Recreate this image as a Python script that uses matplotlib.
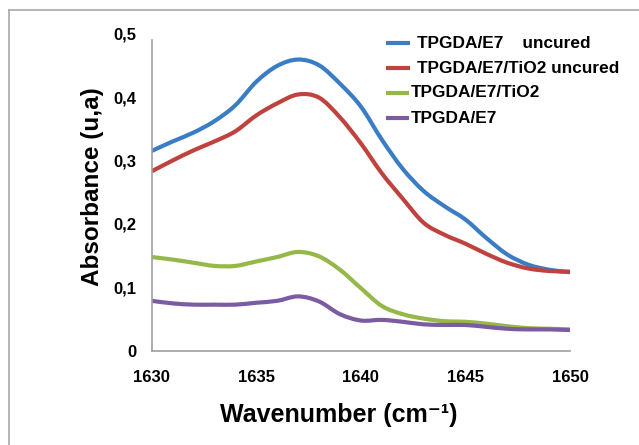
import matplotlib
matplotlib.use("Agg")
import matplotlib.pyplot as plt
import numpy as np
from matplotlib.lines import Line2D
from matplotlib.path import Path
from matplotlib.patches import PathPatch

plt.rcParams['font.family'] = ['Liberation Sans', 'DejaVu Sans']

wavenumber = [1630, 1631, 1632, 1633, 1634, 1635, 1636, 1637, 1638, 1639, 1640,
              1641, 1642, 1643, 1644, 1645, 1646, 1647, 1648, 1649, 1650]

tpgda_e7_uncured = [0.315, 0.330, 0.344, 0.362, 0.387, 0.424, 0.449, 0.459, 0.450, 0.421, 0.385,
                    0.333, 0.287, 0.252, 0.228, 0.207, 0.178, 0.152, 0.136, 0.128, 0.124]
tpgda_e7_tio2_uncured = [0.283, 0.300, 0.316, 0.330, 0.346, 0.371, 0.390, 0.404, 0.399, 0.368, 0.327,
                         0.280, 0.240, 0.202, 0.183, 0.169, 0.153, 0.139, 0.130, 0.126, 0.125]
tpgda_e7_tio2 = [0.148, 0.144, 0.139, 0.134, 0.134, 0.141, 0.148, 0.156, 0.149, 0.128, 0.099,
                 0.071, 0.058, 0.051, 0.047, 0.046, 0.043, 0.039, 0.036, 0.035, 0.034]
tpgda_e7 = [0.079, 0.075, 0.073, 0.073, 0.073, 0.076, 0.079, 0.086, 0.078, 0.058, 0.048,
            0.049, 0.046, 0.042, 0.041, 0.041, 0.038, 0.035, 0.034, 0.034, 0.033]

series = [tpgda_e7_uncured, tpgda_e7_tio2_uncured, tpgda_e7_tio2, tpgda_e7]
labels = ["TPGDA/E7    uncured", "TPGDA/E7/TiO2 uncured", "TPGDA/E7/TiO2", "TPGDA/E7"]
colors = ["#3b7dc4", "#c0423e", "#95b848", "#7b5ca3"]

xticks = [1630, 1635, 1640, 1645, 1650]
xtick_labels = ["1630", "1635", "1640", "1645", "1650"]
yticks = [0, 0.1, 0.2, 0.3, 0.4, 0.5]
ytick_labels = ["0", "0,1", "0,2", "0,3", "0,4", "0,5"]


def smooth_path(xs, ys, k=1 / 6):
    """Excel-style smoothed line: cubic Bezier segments through every data point."""
    xs = np.asarray(xs, float)
    ys = np.asarray(ys, float)
    n = len(xs)
    verts = [(xs[0], ys[0])]
    codes = [Path.MOVETO]
    for i in range(n - 1):
        p0 = np.array([xs[max(i - 1, 0)], ys[max(i - 1, 0)]])
        p1 = np.array([xs[i], ys[i]])
        p2 = np.array([xs[i + 1], ys[i + 1]])
        p3 = np.array([xs[min(i + 2, n - 1)], ys[min(i + 2, n - 1)]])
        c1 = p1 + (p2 - p0) * k
        c2 = p2 - (p3 - p1) * k
        verts += [tuple(c1), tuple(c2), tuple(p2)]
        codes += [Path.CURVE4] * 3
    return Path(verts, codes)


W, H = 639, 445
fig = plt.figure(figsize=(W / 100, H / 100), dpi=100)
fig.patch.set_facecolor("white")

# outer frame
fig.add_artist(Line2D([8.7 / W, 1.0], [1 - 9.7 / H, 1 - 9.7 / H], color="#a8a8a8", lw=1.2))
fig.add_artist(Line2D([8.7 / W, 8.7 / W], [0, 1 - 9.7 / H], color="#a8a8a8", lw=1.2))

left, right = 151.7 / W, 570 / W
bottom, top = 1 - 351 / H, 1 - 33.5 / H
ax = fig.add_axes([left, bottom, right - left, top - bottom])

for ys, c in zip(series, colors):
    patch = PathPatch(smooth_path(wavenumber, ys), facecolor="none", edgecolor=c, lw=3.0,
                      capstyle="butt", joinstyle="round", transform=ax.transData)
    ax.add_patch(patch)

ax.set_xlim(1630, 1650)
ax.set_ylim(0, 0.5)
ax.set_xticks(xticks)
ax.set_xticklabels(xtick_labels, fontsize=12, fontweight="bold")
ax.set_yticks(yticks)
ax.set_yticklabels(ytick_labels, fontsize=12, fontweight="bold")
ax.tick_params(axis="both", length=0)
ax.tick_params(axis="x", pad=14)
ax.tick_params(axis="y", pad=11)
for s in ["top", "right"]:
    ax.spines[s].set_visible(False)
for s in ["left", "bottom"]:
    ax.spines[s].set_color("#a0a0a0")
    ax.spines[s].set_linewidth(1.2)
ax.spines["left"].set_bounds(0, 0.49)

fig.text(339 / W, 1 - 415 / H, "Wavenumber (cm\u207b\u00b9)", fontsize=18, fontweight="bold",
         ha="center", va="center")
fig.text(92 / W, 1 - 187 / H, "Absorbance (u,a)", fontsize=17.5, fontweight="bold",
         ha="center", va="center", rotation=90)

# legend
rows_y = [43.3, 68.3, 92.7, 118.3]
line_x = [(386, 410), (386, 410), (386, 409), (386, 409)]
text_x = [416.7, 416.7, 410.7, 410.7]
for lab, c, yy, (x0, x1), tx in zip(labels, colors, rows_y, line_x, text_x):
    fig.add_artist(Line2D([x0 / W, x1 / W], [1 - yy / H, 1 - yy / H], color=c, lw=3.0,
                          solid_capstyle="butt"))
    fig.text(tx / W, 1 - yy / H, lab, fontsize=12.4, fontweight="bold", ha="left", va="center")

fig.savefig("out.png", dpi=100, facecolor="white")
